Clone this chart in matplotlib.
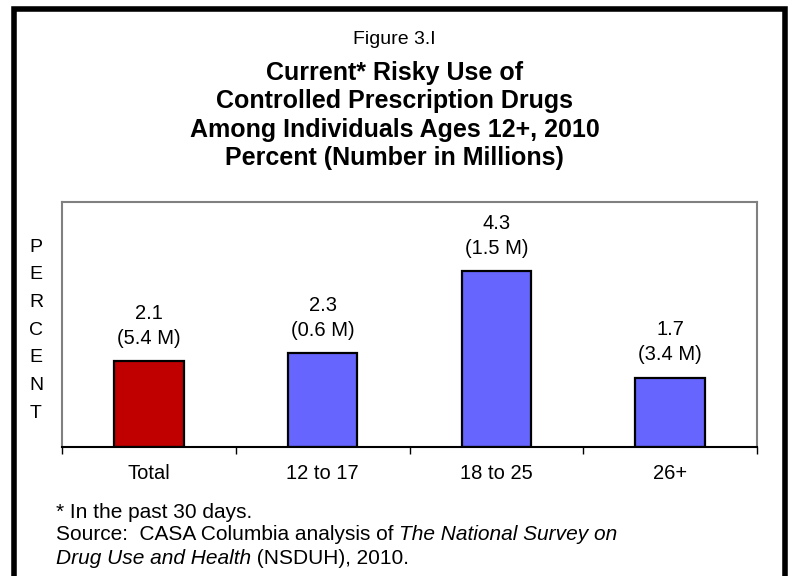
import matplotlib
matplotlib.use("Agg")
import matplotlib.pyplot as plt
from matplotlib.patches import Rectangle
from matplotlib.ticker import FixedLocator

plt.rcParams['font.family'] = ['Liberation Sans', 'DejaVu Sans']

categories = ["Total", "12 to 17", "18 to 25", "26+"]
percent = [2.1, 2.3, 4.3, 1.7]
millions = ["5.4 M", "0.6 M", "1.5 M", "3.4 M"]
bar_colors = ["#C00000", "#6666FF", "#6666FF", "#6666FF"]

title_small = "Figure 3.I"
title_lines = ["Current* Risky Use of",
               "Controlled Prescription Drugs",
               "Among Individuals Ages 12+, 2010",
               "Percent (Number in Millions)"]
ylabel = "PERCENT"

W, H = 789, 576
fig = plt.figure(figsize=(W / 100, H / 100), dpi=100)

def fx(px):
    return px / W

def fy(py):
    return 1 - py / H

# outer frame
frame = Rectangle((fx(13.5), -0.1), fx(785) - fx(13.5), fy(9) + 0.1,
                  transform=fig.transFigure, fill=False, edgecolor="black",
                  linewidth=4.0, clip_on=False)
fig.patches.append(frame)

# titles
fig.text(0.5, fy(40), title_small, ha="center", va="center", fontsize=14)
for i, line in enumerate(title_lines):
    fig.text(0.5, fy(73 + i * 28.3), line, ha="center", va="center",
             fontsize=18, fontweight="bold")

# axes
ax = fig.add_axes([fx(62), fy(447), fx(757) - fx(62), (447 - 202) / H])
x = list(range(len(categories)))
bars = ax.bar(x, percent, width=0.4, color=bar_colors, edgecolor="black",
              linewidth=1.6, zorder=3)
ax.set_xlim(-0.5, len(categories) - 0.5)
ax.set_ylim(0, 6.0)
ax.set_yticks([])
ax.set_xticks(x)
ax.set_xticklabels(categories, fontsize=14.5)
ax.xaxis.set_minor_locator(FixedLocator([i - 0.5 for i in range(len(categories) + 1)]))
ax.tick_params(axis="x", which="major", length=0, pad=12)
ax.tick_params(axis="x", which="minor", length=5, width=1, color="black", direction="out")
for s in ["top", "right", "left"]:
    ax.spines[s].set_color("#808080")
    ax.spines[s].set_linewidth(1.5)
ax.spines["bottom"].set_color("black")
ax.spines["bottom"].set_linewidth(1.5)
ax.spines["bottom"].set_zorder(4)

for xi, v, m in zip(x, percent, millions):
    ax.annotate(f"({m})", (xi, v), xytext=(0, 23 * 0.72), textcoords="offset points",
                ha="center", va="center", fontsize=14.5)
    ax.annotate(f"{v:.1f}", (xi, v), xytext=(0, 48 * 0.72), textcoords="offset points",
                ha="center", va="center", fontsize=14.5)

# vertical PERCENT label
for i, ch in enumerate(ylabel):
    fig.text(fx(36), fy(247 + i * 27.7), ch, ha="center", va="center", fontsize=14)

# footnotes
fs = 15
fig.text(fx(56), fy(513), "* In the past 30 days.", ha="left", va="center", fontsize=fs)
renderer = fig.canvas.get_renderer()

def run(parts, y):
    xpos = fx(56)
    for txt, style in parts:
        t = fig.text(xpos, fy(y), txt, ha="left", va="center", fontsize=fs, fontstyle=style)
        bb = t.get_window_extent(renderer=renderer)
        xpos = bb.x1 / W

run([("Source:  CASA Columbia analysis of ", "normal"),
     ("The National Survey on", "italic")], 535)
run([("Drug Use and Health", "italic"),
     (" (NSDUH), 2010.", "normal")], 558)

fig.savefig("out.png", dpi=100)
